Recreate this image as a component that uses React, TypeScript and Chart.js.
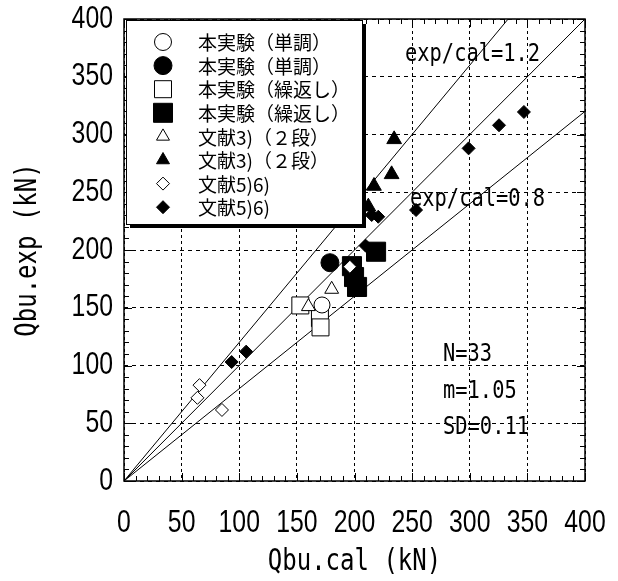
import React, { useEffect, useRef } from 'react';
import { Chart, registerables } from 'chart.js';
Chart.register(...registerables);

const AXIS_MIN = 0;
const AXIS_MAX = 400;
const TICK_STEP = 50;
const MINOR_STEP = 10;
const ratioValues = [1.2, 1.0, 0.8];

const openCircleX = [171.8];
const openCircleY = [152.4];
const filledCircleX = [178.7];
const filledCircleY = [189];
const openSquareX = [153, 170, 170.5];
const openSquareY = [152, 141, 133];
const filledSquareX = [197.8, 199.6, 202.2, 218.7];
const filledSquareY = [186, 176.6, 168, 198.5];
const openTriX = [160, 180.2];
const openTriY = [151, 166];
const filledTriX = [234.4, 232.2, 216.9, 212];
const filledTriY = [295.8, 265.5, 255.4, 237.5];
const openDiaX = [65.5, 63.7, 85, 196];
const openDiaY = [83, 72, 61.5, 185.5];
const filledDiaX = [93.4, 106, 209.7, 214.9, 220.6, 253.4, 299, 325.4, 347];
const filledDiaY = [103, 112, 203.7, 230.3, 228.8, 234.6, 288, 308, 319.5];

const legendLabels = [
  '本実験（単調）',
  '本実験（単調）',
  '本実験（繰返し）',
  '本実験（繰返し）',
  '文献3)（２段）',
  '文献3)（２段）',
  '文献5)6)',
  '文献5)6)',
];
const legendShapes = ['circle', 'circle', 'rect', 'rect', 'triangle', 'triangle', 'diamond', 'diamond'];
const legendFilled = [false, true, false, true, false, true, false, true];
const legendSizes = [8.5, 9, 8.5, 9.5, 7.5, 7.5, 6.5, 6.5];

const annotations = [
  { text: 'exp/cal=1.2', x: 405, y: 55 },
  { text: 'exp/cal=0.8', x: 410, y: 200 },
  { text: 'N=33', x: 443, y: 355 },
  { text: 'm=1.05', x: 443, y: 392 },
  { text: 'SD=0.11', x: 443, y: 428 },
];
const xTitle = 'Qbu.cal (kN)';
const yTitle = 'Qbu.exp (kN)';

const zip = (xs: number[], ys: number[]) => xs.map((x, i) => ({ x, y: ys[i] }));

function drawShape(ctx: CanvasRenderingContext2D, shape: string, x: number, y: number, r: number, filled: boolean) {
  ctx.beginPath();
  if (shape === 'circle') {
    ctx.arc(x, y, r, 0, Math.PI * 2);
  } else if (shape === 'rect') {
    ctx.rect(x - r, y - r, 2 * r, 2 * r);
  } else if (shape === 'triangle') {
    const h = r * 1.5;
    const w = r * Math.sqrt(3);
    ctx.moveTo(x, y - h * 2 / 3);
    ctx.lineTo(x + w / 2, y + h / 3);
    ctx.lineTo(x - w / 2, y + h / 3);
    ctx.closePath();
  } else {
    ctx.moveTo(x, y - r);
    ctx.lineTo(x + r, y);
    ctx.lineTo(x, y + r);
    ctx.lineTo(x - r, y);
    ctx.closePath();
  }
  ctx.fillStyle = filled ? '#000' : '#fff';
  ctx.fill();
  ctx.lineWidth = 1;
  ctx.strokeStyle = '#000';
  ctx.stroke();
}

function scaledText(ctx: CanvasRenderingContext2D, text: string, x: number, y: number, font: string, sx: number, align: CanvasTextAlign, rot = 0) {
  ctx.save();
  ctx.translate(x, y);
  if (rot) ctx.rotate(rot);
  ctx.scale(sx, 1);
  ctx.font = font;
  ctx.fillStyle = '#000';
  ctx.textAlign = align;
  ctx.textBaseline = 'middle';
  ctx.fillText(text, 0, 0);
  ctx.restore();
}

const MONO = (s: number) => `${s}px "DejaVu Sans Mono", monospace`;
const SANS = (s: number) => `${s}px "Liberation Sans", Arial, sans-serif`;

const framePlugin = {
  id: 'framePlugin',
  afterDatasetsDraw(chart: any) {
    const { ctx, chartArea: a, scales } = chart;
    const xs = scales.x;
    const ys = scales.y;
    ctx.save();
    ctx.strokeStyle = '#000';
    ctx.lineWidth = 1;
    ctx.beginPath();
    for (let v = AXIS_MIN; v <= AXIS_MAX; v += MINOR_STEP) {
      const len = v % TICK_STEP === 0 ? 8 : 5;
      const px = Math.round(xs.getPixelForValue(v)) + 0.5;
      ctx.moveTo(px, a.bottom); ctx.lineTo(px, a.bottom - len);
      ctx.moveTo(px, a.top); ctx.lineTo(px, a.top + len);
      const py = Math.round(ys.getPixelForValue(v)) + 0.5;
      ctx.moveTo(a.left, py); ctx.lineTo(a.left + len, py);
      ctx.moveTo(a.right, py); ctx.lineTo(a.right - len, py);
    }
    ctx.stroke();
    ctx.lineWidth = 1.5;
    ctx.strokeRect(a.left, a.top, a.right - a.left, a.bottom - a.top);

    // tick labels from the scales' own ticks
    for (const t of xs.ticks) {
      scaledText(ctx, String(t.value), xs.getPixelForValue(t.value), 523, SANS(31), 0.8, 'center');
    }
    for (const t of ys.ticks) {
      scaledText(ctx, String(t.value), 113, ys.getPixelForValue(t.value), SANS(31), 0.8, 'right');
    }

    // annotations
    for (const t of annotations) scaledText(ctx, t.text, t.x, t.y, MONO(24), 0.85, 'left');
    // axis titles
    scaledText(ctx, xTitle, (a.left + a.right) / 2, 562, MONO(30), 0.8, 'center');
    scaledText(ctx, yTitle, 28, (a.top + a.bottom) / 2, MONO(30), 0.8, 'center', -Math.PI / 2);

    // legend box
    const bx = 126, by = 20, bw = 236, bh = 204;
    ctx.fillStyle = '#000';
    ctx.fillRect(bx + 4, by + 4, bw, bh);
    ctx.fillStyle = '#fff';
    ctx.fillRect(bx, by, bw, bh);
    ctx.lineWidth = 1;
    ctx.strokeStyle = '#000';
    ctx.strokeRect(bx + 0.5, by + 0.5, bw, bh);
    ctx.font = '19px "Noto Sans CJK JP", sans-serif';
    ctx.textBaseline = 'middle';
    ctx.textAlign = 'left';
    legendLabels.forEach((lab, i) => {
      const cy = 42 + i * 23.6;
      drawShape(ctx, legendShapes[i], 163, cy, legendSizes[i], legendFilled[i]);
      ctx.fillStyle = '#000';
      ctx.fillText(lab, 198, cy + 1);
    });
    ctx.restore();
  },
};

export default function App() {
  const ref = useRef<HTMLCanvasElement>(null);
  useEffect(() => {
    if (!ref.current) return;
    const lineSets = ratioValues.map((r) => ({
      type: 'scatter' as const,
      data: [{ x: AXIS_MIN, y: AXIS_MIN * r }, { x: AXIS_MAX, y: AXIS_MAX * r }],
      showLine: true,
      borderColor: '#000',
      borderWidth: 1,
      pointRadius: 0,
      order: 100,
    }));
    const pt = (data: any[], style: string, r: number, filled: boolean, order: number) => ({
      data,
      pointStyle: style,
      pointRadius: r,
      pointHoverRadius: r,
      pointBackgroundColor: filled ? '#000' : '#fff',
      pointBorderColor: '#000',
      pointBorderWidth: 1,
      showLine: false,
      order,
    });
    const chart = new Chart(ref.current, {
      type: 'scatter',
      data: {
        datasets: [
          ...lineSets,
          pt(zip(filledSquareX, filledSquareY), 'rect', 13.5, true, 50),
          pt(zip(filledCircleX, filledCircleY), 'circle', 9, true, 45),
          pt(zip(filledTriX, filledTriY), 'triangle', 8.5, true, 40),
          pt(zip(filledDiaX, filledDiaY), 'rectRot', 6.5, true, 40),
          pt(zip(openSquareX, openSquareY), 'rect', 12, false, 30),
          pt(zip(openTriX, openTriY), 'triangle', 8, false, 25),
          pt(zip(openCircleX, openCircleY), 'circle', 8, false, 20),
          pt(zip(openDiaX, openDiaY), 'rectRot', 6.5, false, 10),
        ] as any,
      },
      options: {
        animation: false,
        responsive: false,
        events: [],
        layout: { padding: { top: 19, right: 33, left: 0, bottom: 0 } },
        plugins: { legend: { display: false }, tooltip: { enabled: false } },
        scales: {
          x: {
            type: 'linear',
            min: AXIS_MIN,
            max: AXIS_MAX,
            afterFit: (s: any) => { s.height = 100; },
            ticks: { stepSize: TICK_STEP, display: false, autoSkip: false },
            grid: { color: '#000', lineWidth: 1, drawTicks: false },
            border: { display: false, dash: [3, 3] },
          },
          y: {
            type: 'linear',
            min: AXIS_MIN,
            max: AXIS_MAX,
            afterFit: (s: any) => { s.width = 124; },
            ticks: { stepSize: TICK_STEP, display: false, autoSkip: false },
            grid: { color: '#000', lineWidth: 1, drawTicks: false },
            border: { display: false, dash: [4, 4] },
          },
        },
      } as any,
      plugins: [framePlugin],
    });
    return () => chart.destroy();
  }, []);
  return (
    <div style={{ position: 'absolute', left: 0, top: 0, width: 618, height: 581, background: '#fff' }}>
      <canvas ref={ref} width={618} height={581} style={{ width: 618, height: 581, display: 'block' }} />
    </div>
  );
}
